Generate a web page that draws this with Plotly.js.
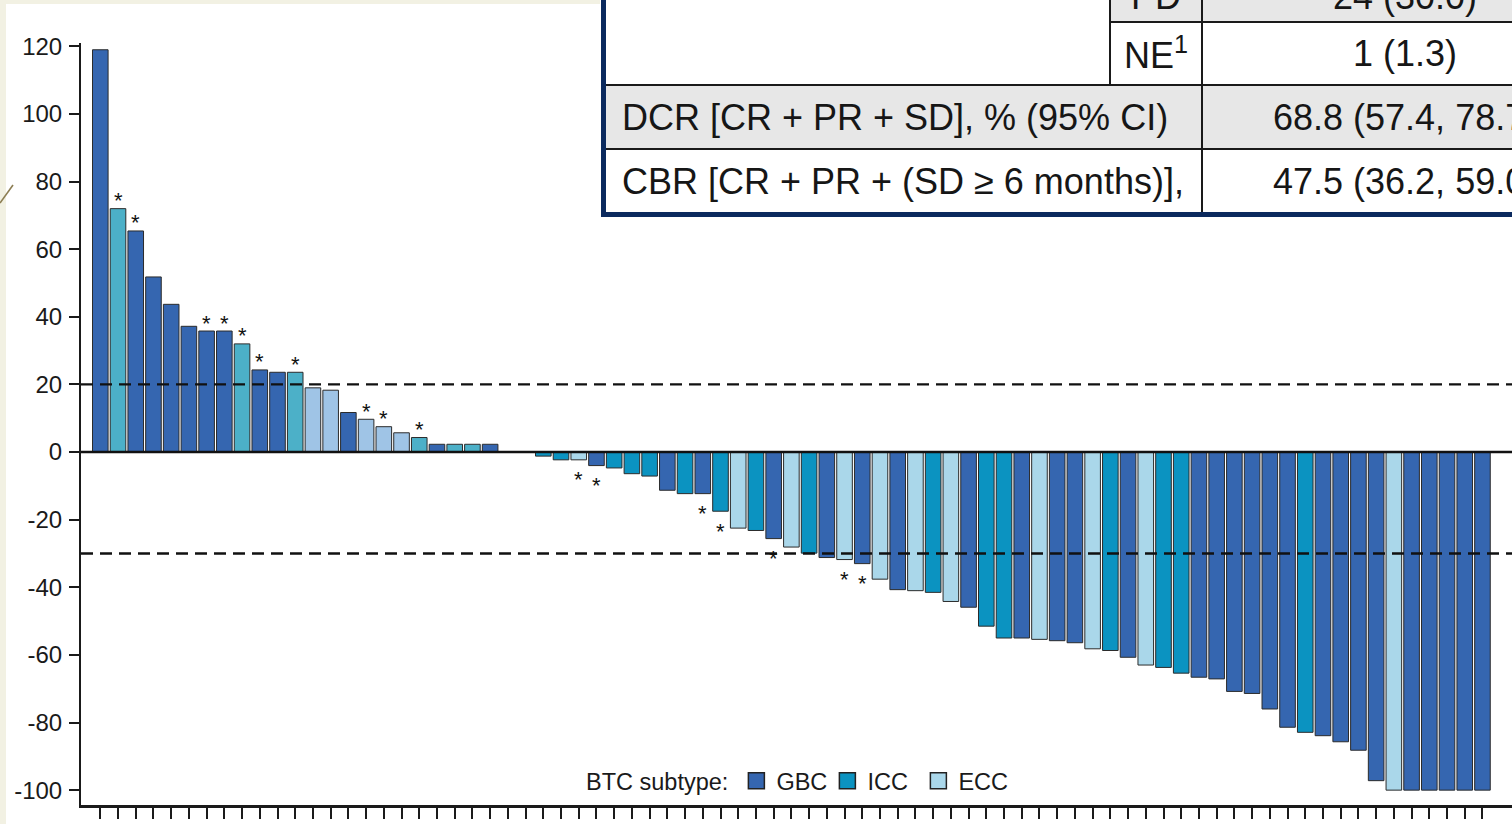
<!DOCTYPE html>
<html>
<head>
<meta charset="utf-8">
<script src="https://cdn.plot.ly/plotly-3.0.1.min.js"></script>
<style>
  html, body { margin: 0; padding: 0; background: #f2f1e3; }
  #wrap { position: relative; width: 1512px; height: 824px; overflow: hidden; }
  #chart { position: absolute; left: 0; top: 0; width: 1512px; height: 824px; }
  .strip { position: absolute; background: #f2f1e3; z-index: 5; }
  #deco { position: absolute; left: 0; top: 0; z-index: 6; }
</style>
</head>
<body>
<div id="wrap">
  <div id="chart"></div>
  <div class="strip" style="left:0;top:0;width:6px;height:824px;"></div>
  <div class="strip" style="left:0;top:0;width:600px;height:4px;"></div>
  <svg id="deco" width="20" height="230"><line x1="0" y1="203" x2="13" y2="185" stroke="#8c7d52" stroke-width="1.6"/></svg>
</div>
<script>
// ---------------- data ----------------
const patients = [1,2,3,4,5,6,7,8,9,10,11,12,13,14,15,16,17,18,19,20,
  21,22,23,24,25,26,27,28,29,30,31,32,33,34,35,36,37,38,39,40,
  41,42,43,44,45,46,47,48,49,50,51,52,53,54,55,56,57,58,59,60,
  61,62,63,64,65,66,67,68,69,70,71,72,73,74,75,76,77,78,79];

const subtype = ['GBC','ICC','GBC','GBC','GBC','GBC','GBC','GBC','ICC','GBC',
  'GBC','ICC','ECC','ECC','GBC','ECC','ECC','ECC','ICC','GBC',
  'ICC','ICC','GBC','GBC','GBC','ICC','ICC','ECC','GBC','ICC',
  'ICC','ICC','GBC','ICC','GBC','ICC','ECC','ICC','GBC','ECC',
  'ICC','GBC','ECC','GBC','ECC','GBC','ECC','ICC','ECC','GBC',
  'ICC','ICC','GBC','ECC','GBC','GBC','ECC','ICC','GBC','ECC',
  'ICC','ICC','GBC','GBC','GBC','GBC','GBC','GBC','ICC','GBC',
  'GBC','GBC','GBC','ECC','GBC','GBC','GBC','GBC','GBC'];

const changePct = [119.0, 72.0, 65.4, 51.8, 43.7, 37.2, 35.8, 35.8, 32.0, 24.3,
  23.6, 23.6, 19.0, 18.3, 11.7, 9.7, 7.5, 5.7, 4.3, 2.3,
  2.3, 2.3, 2.3, 0, 0, -1.2, -2.3, -2.3, -4.0, -4.7,
  -6.4, -7.1, -11.3, -12.3, -12.3, -17.5, -22.5, -23.2, -25.6, -28.1,
  -29.9, -31.2, -31.8, -33.0, -37.6, -40.7, -41.0, -41.5, -44.2, -45.9,
  -51.5, -55.0, -55.0, -55.4, -55.8, -56.4, -58.2, -58.7, -60.7, -63.0,
  -63.7, -65.4, -66.6, -67.1, -70.8, -71.4, -76.0, -81.4, -82.9, -83.9,
  -85.7, -88.2, -97.2, -100, -100, -100, -100, -100, -100];

const starred = [2, 3, 7, 8, 9, 10, 12, 16, 17, 19, 28, 29, 35, 36, 39, 43, 44];

const thresholds = [20, -30];
const yTickVals = [-100, -80, -60, -40, -20, 0, 20, 40, 60, 80, 100, 120];
const yTickLabels = ['-100', '-80', '-60', '-40', '-20', '0', '20', '40', '60', '80', '100', '120'];
const legendNames = ['GBC', 'ICC', 'ECC'];

const tableRows = [
  {label: '', sub: 'PD', value: '24 (30.0)'},
  {label: '', sub: 'NE<sup>1</sup>', value: '1 (1.3)'},
  {label: 'DCR [CR + PR + SD], % (95% CI)', sub: '', value: '68.8 (57.4, 78.7)'},
  {label: 'CBR [CR + PR + (SD \u2265 6 months)],', sub: '', value: '47.5 (36.2, 59.0)'}
];

// ---------------- styles ----------------
const FONT = 'Liberation Sans, Arial, sans-serif';
const colNeg = {GBC: '#3566b0', ICC: '#0b93c1', ECC: '#aad7ea'};
const colPos = {GBC: '#3566b0', ICC: '#4cb0c8', ECC: '#9fc4e6'};
const barColors = changePct.map((v, i) => (v > 0 ? colPos : colNeg)[subtype[i]]);

// plot geometry helpers (pixel -> paper)
const L = 81, R = 1512, T = 43, B = 805;
const px = x => (x - L) / (R - L);
const py = y => (B - y) / (B - T);

const traces = [{
  type: 'bar',
  x: patients,
  y: changePct,
  marker: {color: barColors, line: {color: '#2b2b2b', width: 1}},
  width: 0.88,
  showlegend: false,
  hoverinfo: 'x+y'
}];
legendNames.forEach(n => {
  traces.push({
    type: 'scatter', mode: 'markers', x: [null], y: [null], name: n,
    marker: {symbol: 'square', size: 16, color: colNeg[n], line: {color: '#222', width: 1.5}},
    showlegend: true
  });
});

// asterisks
const annotations = starred.map(p => {
  const i = patients.indexOf(p);
  const v = changePct[i];
  return {
    x: p, y: v, xref: 'x', yref: 'y', text: '*', showarrow: false,
    font: {family: FONT, size: 22, color: '#111'},
    yanchor: 'middle', xanchor: 'center',
    yshift: v > 0 ? 8 : -20
  };
});

// table text
const rowMid = [-3, 53.5, 117, 181.5];
tableRows.forEach((r, k) => {
  const y = py(rowMid[k]);
  if (r.label) annotations.push({xref: 'paper', yref: 'paper', x: px(620), y: y, xanchor: 'left', yanchor: 'middle',
    text: r.label, showarrow: false, font: {family: FONT, size: 36, color: '#161616'}});
  if (r.sub) annotations.push({xref: 'paper', yref: 'paper', x: px(1156), y: y, xanchor: 'center', yanchor: 'middle',
    text: r.sub, showarrow: false, font: {family: FONT, size: 36, color: '#161616'}});
  annotations.push({xref: 'paper', yref: 'paper', x: px(1404.5), y: y, xanchor: 'center', yanchor: 'middle',
    text: r.value, showarrow: false, font: {family: FONT, size: 36, color: '#161616'}});
});

const shapes = [];
// zero line
shapes.push({type: 'line', xref: 'paper', x0: 0, x1: 1, yref: 'y', y0: 0, y1: 0,
  line: {color: '#111', width: 2.5}, layer: 'above'});
thresholds.forEach(t => shapes.push({type: 'line', xref: 'paper', x0: 0, x1: 1, yref: 'y', y0: t, y1: t,
  line: {color: '#111', width: 2.3, dash: '12px,7px'}, layer: 'above'}));

// table boxes
const rect = (x0, y0, x1, y1, fill) => ({type: 'rect', xref: 'paper', yref: 'paper',
  x0: px(x0), x1: px(x1), y0: py(y1), y1: py(y0), fillcolor: fill, line: {width: 0}, layer: 'above'});
const hline = (x0, x1, y) => ({type: 'line', xref: 'paper', yref: 'paper', x0: px(x0), x1: px(x1), y0: py(y), y1: py(y),
  line: {color: '#1a1a1a', width: 2}, layer: 'above'});
const vline = (x, y0, y1) => ({type: 'line', xref: 'paper', yref: 'paper', x0: px(x), x1: px(x), y0: py(y0), y1: py(y1),
  line: {color: '#1a1a1a', width: 2}, layer: 'above'});
shapes.push(rect(603, -40, 1760, 214, '#ffffff'));
shapes.push(rect(1110, -40, 1760, 22, '#e7e7e7'));
shapes.push(rect(603, 85, 1760, 149, '#e7e7e7'));
shapes.push(hline(1110, 1760, 22));
shapes.push(hline(603, 1760, 85));
shapes.push(hline(603, 1760, 149));
shapes.push(vline(1110, -40, 85));
shapes.push(vline(1202, -40, 214));
shapes.push({type: 'rect', xref: 'paper', yref: 'paper', x0: px(603.5), x1: px(1780), y0: py(214.5), y1: py(-40),
  fillcolor: 'rgba(0,0,0,0)', line: {color: '#0b2a5e', width: 5}, layer: 'above'});

const layout = {
  width: 1512, height: 824,
  margin: {l: L, r: 1512 - R, t: T, b: 824 - B, pad: 0},
  paper_bgcolor: '#ffffff', plot_bgcolor: '#ffffff',
  font: {family: FONT, color: '#1a1a1a'},
  barmode: 'overlay',
  xaxis: {
    range: [-0.089, 80.667], showgrid: false, zeroline: false,
    showline: true, linecolor: '#1a1a1a', linewidth: 2.5,
    tickmode: 'array', tickvals: patients, showticklabels: false,
    ticks: 'outside', ticklen: 11, tickwidth: 2, tickcolor: '#1a1a1a'
  },
  yaxis: {
    range: [-104.4, 121.0], showgrid: false, zeroline: false,
    showline: true, linecolor: '#1a1a1a', linewidth: 2,
    tickmode: 'array', tickvals: yTickVals, ticktext: yTickLabels,
    ticks: 'outside', ticklen: 10, tickwidth: 2, tickcolor: '#1a1a1a',
    ticklabelstandoff: 2,
    tickfont: {family: FONT, size: 24, color: '#1a1a1a'}
  },
  legend: {
    orientation: 'h', x: px(584), xanchor: 'left', y: py(781), yanchor: 'middle',
    bgcolor: 'rgba(0,0,0,0)', borderwidth: 0,
    font: {family: FONT, size: 23.5, color: '#1a1a1a'},
    title: {text: 'BTC subtype:', side: 'left', font: {family: FONT, size: 23.5, color: '#1a1a1a'}},
    itemwidth: 30, entrywidth: 46, entrywidthmode: 'pixels'
  },
  shapes: shapes,
  annotations: annotations
};

Plotly.newPlot('chart', traces, layout, {displayModeBar: false, staticPlot: true});
</script>
</body>
</html>
